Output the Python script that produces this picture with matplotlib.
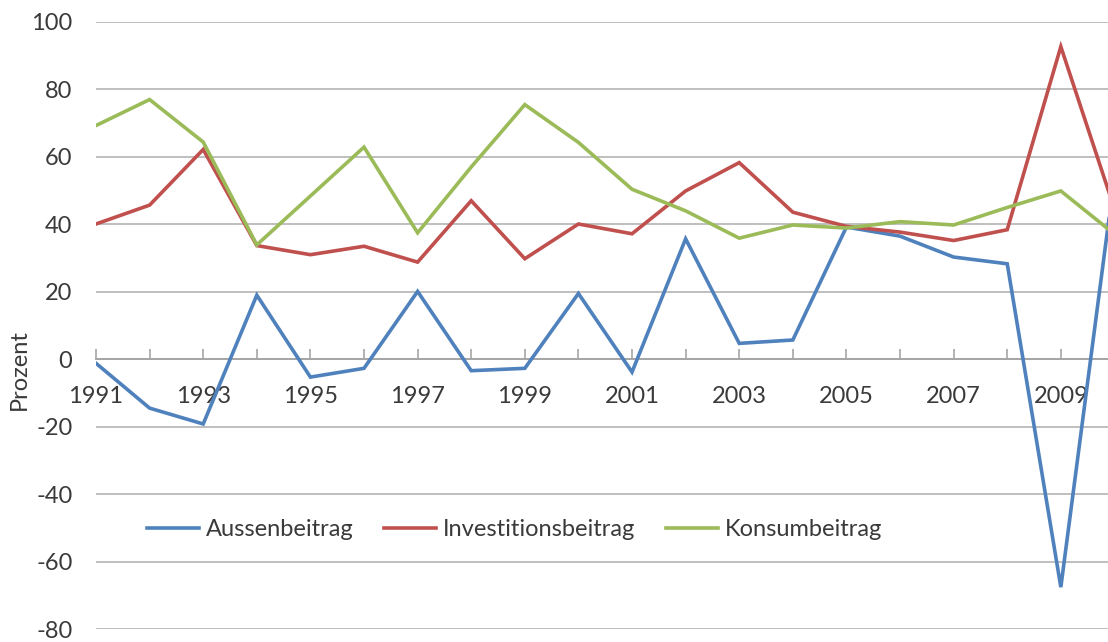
"""
Wachstumsbeitraege 1991-2010 (Prozent)
"""
import matplotlib.pyplot as plt

years = list(range(1991, 2011))
aussenbeitrag = [-1.2, -14.5, -19.2, 19.0, -5.3, -2.7, 20.1, -3.4, -2.7, 19.5,
                 -3.8, 35.7, 4.7, 5.7, 39.2, 36.5, 30.3, 28.3, -67.6, 54.0]
investitionsbeitrag = [40.1, 45.7, 62.2, 33.7, 31.0, 33.5, 28.8, 47.0, 29.8, 40.1,
                       37.2, 49.9, 58.3, 43.6, 39.4, 37.7, 35.2, 38.4, 92.7, 44.6]
konsumbeitrag = [69.3, 77.0, 64.4, 33.9, 48.4, 62.9, 37.5, 57.0, 75.5, 64.3,
                 50.4, 44.0, 35.9, 39.8, 38.9, 40.8, 39.8, 45.0, 49.9, 37.1]
series_names = ['Aussenbeitrag', 'Investitionsbeitrag', 'Konsumbeitrag']
series_colors = ['#4F81BD', '#C0504D', '#9BBB59']
y_ticks = list(range(-80, 101, 20))
text_color = '#3A3A3A'
font_size = 17

plt.rcParams['font.family'] = ['Lato', 'DejaVu Sans']

fig = plt.figure(figsize=(11.08, 6.42), dpi=100)
ax = fig.add_axes([96 / 1108, 13 / 642, 1012 / 1108, 607 / 642])

for values, name, color in zip([aussenbeitrag, investitionsbeitrag, konsumbeitrag],
                               series_names, series_colors):
    ax.plot(years, values, color=color, linewidth=2.6, label=name,
            solid_joinstyle='miter', zorder=3)

# Gridlines every 20
ax.set_yticks(y_ticks)
ax.set_yticklabels([str(t) for t in y_ticks])
ax.yaxis.grid(True, color='#BFBFBF', linewidth=1.4)
ax.set_axisbelow(True)
ax.tick_params(axis='y', length=0, pad=17, labelsize=font_size, labelcolor=text_color)

# Category axis sits on the zero line, labels on odd years only
for side in ['left', 'right', 'top']:
    ax.spines[side].set_visible(False)
ax.spines['bottom'].set_position(('data', 0))
ax.spines['bottom'].set_color('#A6A6A6')
ax.spines['bottom'].set_linewidth(1.4)
ax.set_xticks(years)
ax.set_xticklabels([str(y) if y % 2 == 1 else '' for y in years])
ax.tick_params(axis='x', direction='in', length=7, width=1.2, color='#A6A6A6',
               pad=19, labelsize=font_size, labelcolor=text_color)

# Limits after the ticks: the right edge of the picture cuts just before 2010
ax.set_xlim(1991, 2009.88)
ax.set_ylim(-80, 100)

ax.set_ylabel('Prozent', fontsize=font_size, color=text_color)
ax.yaxis.set_label_coords(-0.065, 0.428)

ax.legend(loc='center left', bbox_to_anchor=(0.05, 0.164), ncol=3, frameon=False,
          fontsize=font_size, labelcolor=text_color, handlelength=2.2, handletextpad=0.3,
          columnspacing=1.3, borderpad=0, borderaxespad=0)

plt.savefig('out.png', dpi=100)
